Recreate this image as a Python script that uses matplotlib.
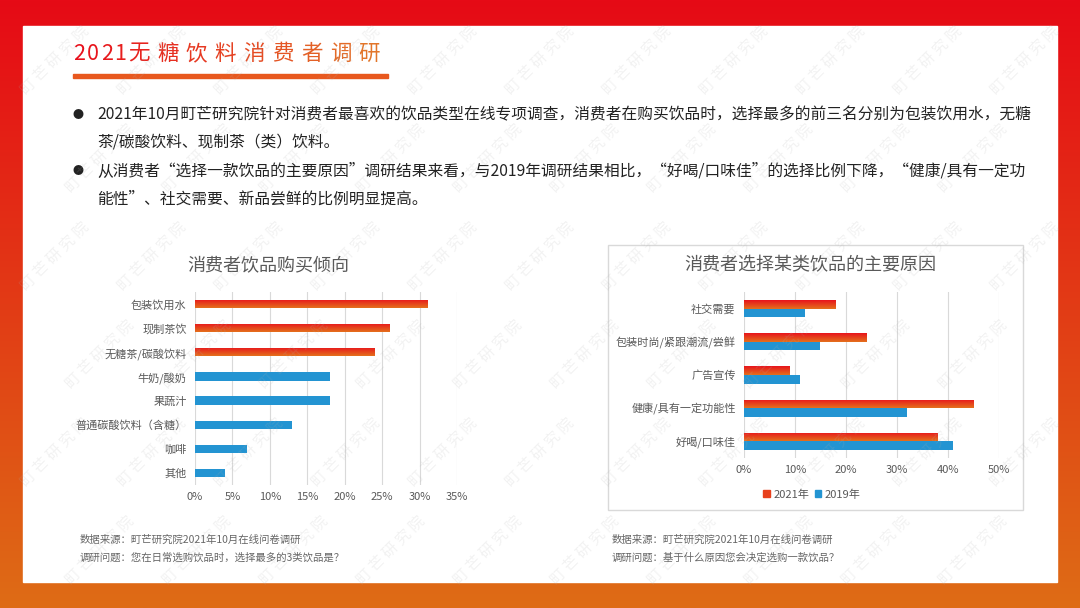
# 2021 无糖饮料消费者调研 —— 信息图复刻

import numpy as np
import matplotlib.pyplot as plt
from matplotlib.patches import Rectangle, Patch
from matplotlib.colors import LinearSegmentedColormap, to_rgb
from matplotlib.ticker import PercentFormatter

plt.rcParams['font.family'] = ['Noto Sans CJK SC', 'DejaVu Sans']

# =========================
# 1. 数据
# =========================
buy_cats = ['包装饮用水', '现制茶饮', '无糖茶/碳酸饮料', '牛奶/酸奶', '果蔬汁',
            '普通碳酸饮料（含糖）', '咖啡', '其他']
buy_vals = [31, 26, 24, 18, 18, 13, 7, 4]
buy_top3 = [True, True, True, False, False, False, False, False]

reason_cats = ['社交需要', '包装时尚/紧跟潮流/尝鲜', '广告宣传', '健康/具有一定功能性', '好喝/口味佳']
reason_2021 = [18, 24, 9, 45, 38]
reason_2019 = [12, 15, 11, 32, 41]
series_names = ['2021年', '2019年']

title = '2021无糖饮料消费者调研'
bullets = [
    ['2021年10月町芒研究院针对消费者最喜欢的饮品类型在线专项调查，消费者在购买饮品时，选择最多的前三名分别为包装饮用水，无糖',
     '茶/碳酸饮料、现制茶（类）饮料。'],
    ['从消费者“选择一款饮品的主要原因”调研结果来看，与2019年调研结果相比，“好喝/口味佳”的选择比例下降，“健康/具有一定功',
     '能性”、社交需要、新品尝鲜的比例明显提高。'],
]
notes_left = ['数据来源：町芒研究院2021年10月在线问卷调研',
              '调研问题：您在日常选购饮品时，选择最多的3类饮品是？']
notes_right = ['数据来源：町芒研究院2021年10月在线问卷调研',
               '调研问题：基于什么原因您会决定选购一款饮品？']

# =========================
# 2. 颜色
# =========================
RED = '#E8141C'
ORANGE = '#E4701C'
BLUE = '#2394D2'
GRAY_TXT = '#595959'
GRID = '#D9D9D9'
bar_cmap = LinearSegmentedColormap.from_list('bar', [RED, ORANGE])
frame_cmap = LinearSegmentedColormap.from_list('frame', ['#E60A16', '#DE6C15'])

W, H = 1080, 608
fig = plt.figure(figsize=(W / 100, H / 100), dpi=100)

# 背景（像素坐标）
bg = fig.add_axes([0, 0, 1, 1], zorder=0)
bg.imshow(np.linspace(0, 1, 256).reshape(-1, 1), cmap=frame_cmap,
          extent=[0, W, H, 0], aspect='auto')
bg.add_patch(Rectangle((23, 26), 1034, 556, color='white'))
bg.set_xlim(0, W)
bg.set_ylim(H, 0)
bg.axis('off')

# 标题（逐字渐变）
x = 73
c0, c1 = np.array(to_rgb('#E8101C')), np.array(to_rgb('#E27A2A'))
for ch in title:
    t = (x - 73) / 300
    bg.text(x, 54, ch, fontsize=15.5, color=c0 + (c1 - c0) * t,
            ha='left', va='center')
    x += 13.8 if ch.isdigit() else 28.8
bg.add_patch(Rectangle((73, 74), 315, 4, color='#E8581E'))

# 正文
ys = [115, 142, 171, 199]
k = 0
for para in bullets:
    bg.text(78, ys[k], '●', fontsize=8, color='#222222', ha='center', va='center')
    for line in para:
        bg.text(97, ys[k], line, fontsize=11.3, color='#222222', ha='left', va='center')
        k += 1

# 右图边框
bg.add_patch(Rectangle((608, 245), 415, 265, fill=False, ec=GRID, lw=1))

# 图标题
bg.text(268, 265, '消费者饮品购买倾向', fontsize=13, color=GRAY_TXT, ha='center', va='center')
bg.text(810, 265, '消费者选择某类饮品的主要原因', fontsize=13, color=GRAY_TXT, ha='center', va='center')

# 脚注
for i, s in enumerate(notes_left):
    bg.text(80, 540 + 18 * i, s, fontsize=7.5, color='#666666', ha='left', va='center')
for i, s in enumerate(notes_right):
    bg.text(612, 540 + 18 * i, s, fontsize=7.5, color='#666666', ha='left', va='center')


def gradient_bars(ax, bars):
    # 把条形换成上红下橙的渐变
    for b in bars:
        x0, y0 = b.get_x(), b.get_y()
        w, h = b.get_width(), b.get_height()
        im = ax.imshow(np.linspace(0, 1, 64).reshape(-1, 1), cmap=bar_cmap,
                       extent=[x0, x0 + w, y0 + h, y0], aspect='auto', zorder=3,
                       interpolation='bilinear')
        im.set_clip_path(b)
        b.set_facecolor('none')
        b.set_edgecolor('none')


def style_axis(ax, xmax, step):
    ax.set_xlim(0, xmax)
    ax.set_xticks(np.arange(0, xmax + 1, step))
    ax.xaxis.set_major_formatter(PercentFormatter(decimals=0))
    ax.grid(axis='x', color=GRID, lw=0.8)
    ax.set_axisbelow(True)
    for sp in ax.spines.values():
        sp.set_visible(False)
    ax.tick_params(length=0, labelsize=8, labelcolor=GRAY_TXT)
    ax.tick_params(axis='x', pad=5)
    ax.tick_params(axis='y', pad=6)
    ax.patch.set_alpha(0)


# =========================
# 3. 左图：购买倾向
# =========================
ax1 = fig.add_axes([195 / W, 1 - 485 / H, 262 / W, 193 / H], zorder=2)
y1 = np.arange(len(buy_cats))
bars1 = ax1.barh(y1, buy_vals, height=0.34,
                 color=[RED if t else BLUE for t in buy_top3], zorder=3)
gradient_bars(ax1, [b for b, t in zip(bars1, buy_top3) if t])
ax1.set_yticks(y1)
ax1.set_yticklabels(buy_cats)
ax1.set_ylim(len(buy_cats) - 0.5, -0.5)
style_axis(ax1, 35, 5)

# =========================
# 4. 右图：主要原因
# =========================
ax2 = fig.add_axes([744 / W, 1 - 458 / H, 254.7 / W, 166 / H], zorder=2)
y2 = np.arange(len(reason_cats))
bh = 0.26
bars_a = ax2.barh(y2 - bh / 2, reason_2021, height=bh, color=RED, zorder=3)
ax2.barh(y2 + bh / 2, reason_2019, height=bh, color=BLUE, zorder=3)
gradient_bars(ax2, bars_a)
ax2.set_yticks(y2)
ax2.set_yticklabels(reason_cats)
ax2.set_ylim(len(reason_cats) - 0.5, -0.5)
style_axis(ax2, 50, 10)
ax2.legend(handles=[Patch(color='#E8401C'), Patch(color=BLUE)], labels=series_names,
           loc='center', bbox_to_anchor=(0.267, -0.22), ncol=2, frameon=False,
           fontsize=8, labelcolor=GRAY_TXT, handlelength=0.6, handleheight=0.6,
           handletextpad=0.3, columnspacing=0.5)

# =========================
# 5. 水印（只放完整落在画面内的）
# =========================
ov = fig.add_axes([0, 0, 1, 1], zorder=10)
ov.set_xlim(0, W)
ov.set_ylim(H, 0)
ov.axis('off')
ov.patch.set_alpha(0)
for r in range(0, 6):
    for c in range(0, 12):
        wx = 55 + c * 97 + (r % 2) * 45
        wy = 60 + r * 98
        if wx > W - 50 or wy > H - 50:
            continue
        ov.text(wx, wy, '町 芒 研 究 院', rotation=45, fontsize=11,
                color='#B0B0B0', alpha=0.16, ha='center', va='center')

fig.savefig('out.png', dpi=100)
